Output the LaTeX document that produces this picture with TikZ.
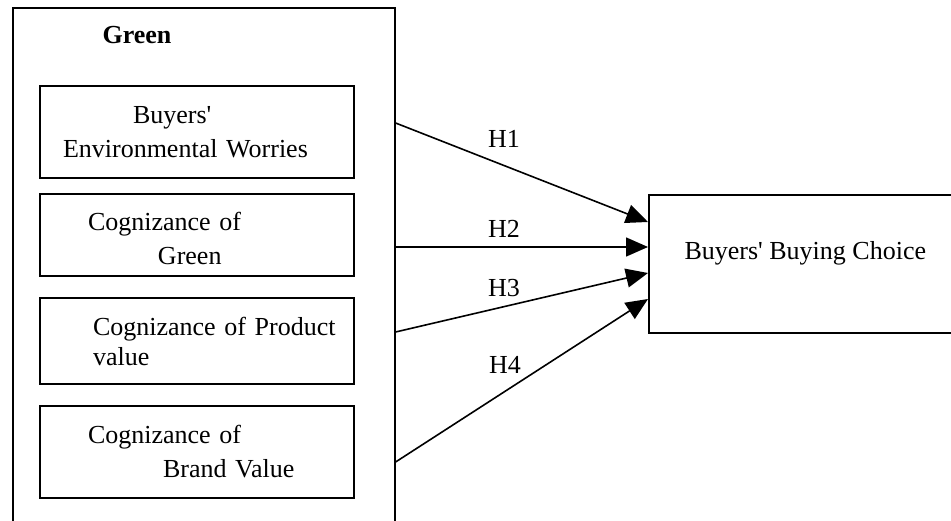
\documentclass[tikz,border=0pt]{standalone}
\usepackage{fontspec}
\setmainfont{Liberation Serif}
\usetikzlibrary{arrows.meta}

\tikzstyle{factor} = [draw, line width=1.6pt, align=left, text width=300pt, inner xsep=7pt, inner ysep=0pt]
\tikzstyle{hyp} = [draw, line width=1.6pt, -{Triangle[length=22pt, width=19pt]}]

\begin{document}
\begin{tikzpicture}[x=1pt, y=-1pt, font=\fontsize{26}{34}\selectfont]
        \useasboundingbox (0,0) rectangle (951,521);
        \clip (0,0) rectangle (951,521);
        \node[draw, line width=1.6pt, anchor=north west, inner sep=0pt,
              minimum width=382pt, minimum height=560pt] (green) at (12,7) {};
        \node[font=\fontsize{26}{34}\selectfont\bfseries] (greentitle) at (137,35) {Green};
        % the four factors
        \node[factor, minimum height=92pt] (worries) at (197,132)
            {\hspace*{86pt}Buyers\textquotesingle\\\hspace*{16pt}Environmental Worries};
        \node[factor, minimum height=82pt, text height=18pt, text depth=26pt] (greenaware) at (197,235)
            {\hspace*{41pt}Cognizance of\\\hspace*{111pt}Green};
        \node[factor, minimum height=86pt] (product) at (197,341)
            {\hspace*{46pt}Cognizance of Product\\[-4pt]\hspace*{46pt}value};
        \node[factor, minimum height=92pt] (brand) at (197,452)
            {\hspace*{41pt}Cognizance of\\\hspace*{116pt}Brand Value};
        % outcome
        \node[draw, line width=1.6pt, anchor=north west, minimum width=313pt, minimum height=138pt,
              text height=18pt, text depth=26pt] (choice) at (648,194) {Buyers\textquotesingle{} Buying Choice};
        % hypotheses
        \draw[hyp] (green.east |- 0,123) -- (choice.west |- 0,222);
        \draw[hyp] (green.east |- 0,247) -- (choice.west |- 0,247);
        \draw[hyp] (green.east |- 0,332) -- (choice.west |- 0,273);
        \draw[hyp] (green.east |- 0,462) -- (choice.west |- 0,299);
        \node (h1) at (504,139) {H1};
        \node (h2) at (504,229) {H2};
        \node (h3) at (504,288) {H3};
        \node (h4) at (505,365) {H4};
\end{tikzpicture}
\end{document}
